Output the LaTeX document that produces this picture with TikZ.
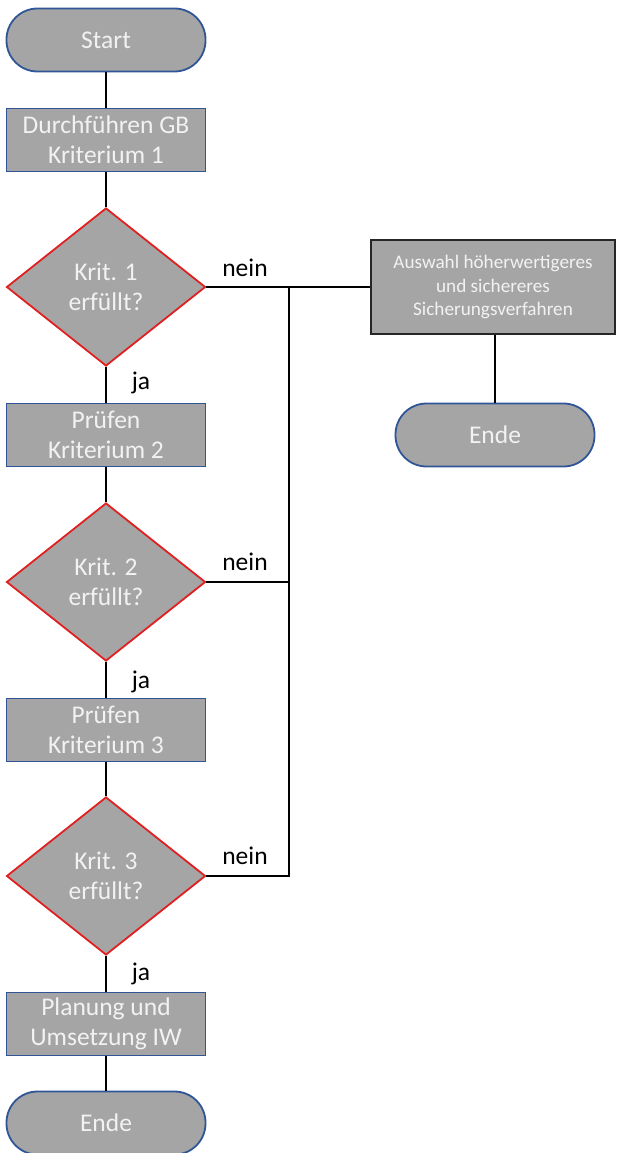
\documentclass[tikz,border=0pt]{standalone}
\usepackage{fontspec}
\setmainfont{Carlito}
\usetikzlibrary{shapes.geometric}
\definecolor{boxgray}{HTML}{A5A5A5}
\definecolor{boxblue}{HTML}{2F5597}
\definecolor{diared}{HTML}{E02020}
\definecolor{txtwhite}{HTML}{F2F2F2}
\tikzset{
  base/.style={fill=boxgray, text=txtwhite, align=center, font=\fontsize{25.5}{30}\selectfont, inner sep=0pt, line width=1.8pt},
  pill/.style={base, draw=boxblue, rounded corners=31pt, minimum width=199pt, minimum height=63pt},
  procbox/.style={base, draw=boxblue, rectangle, minimum width=199pt, minimum height=63pt},
  decision/.style={base, draw=diared, diamond, minimum width=199pt, minimum height=158pt, aspect=1.26},
  darkbox/.style={base, draw=black!85, line width=2.2pt, rectangle, minimum width=244pt, minimum height=94pt, font=\fontsize{19.2}{23.5}\selectfont},
  conn/.style={draw=black, line width=1.8pt},
  lbl/.style={font=\fontsize{25.5}{28}\selectfont, text=black, inner sep=0pt}
}
\begin{document}
\begin{tikzpicture}[x=1pt, y=-1pt]
\useasboundingbox (0,0) rectangle (616,1153);
\node[pill] (start) at (106,40) {Start};
\node[procbox] (b1) at (106,140) {Durchführen GB\\Kriterium 1};
\node[decision] (d1) at (106,287) {Krit. 1\\erfüllt?};
\node[procbox] (b2) at (106,435) {Prüfen\\Kriterium 2};
\node[decision] (d2) at (106,582) {Krit. 2\\erfüllt?};
\node[procbox] (b3) at (106,730) {Prüfen\\Kriterium 3};
\node[decision] (d3) at (106,876) {Krit. 3\\erfüllt?};
\node[procbox] (b4) at (106,1024) {Planung und\\Umsetzung IW};
\node[pill] (ende1) at (106,1123) {Ende};
\node[darkbox] (alt) at (493,287) {Auswahl höherwertigeres\\und sichereres\\Sicherungsverfahren};
\node[pill] (ende2) at (495,435) {Ende};
\coordinate (j1) at (289,287);
\coordinate (j2) at (289,582);
\coordinate (j3) at (289,876);
\draw[conn] (start) -- (b1);
\draw[conn] (b1) -- (d1);
\draw[conn] (d1) -- (b2);
\draw[conn] (b2) -- (d2);
\draw[conn] (d2) -- (b3);
\draw[conn] (b3) -- (d3);
\draw[conn] (d3) -- (b4);
\draw[conn] (b4) -- (ende1);
\draw[conn] (d1.east) -- (alt.west);
\draw[conn] (d2.east) -- (j2);
\draw[conn] (d3.east) -- (j3) -- (j1);
\draw[conn] (alt.south -| ende2.north) -- (ende2.north);
\node[lbl] (n1) at (245,268) {nein};
\node[lbl] (n2) at (245,562) {nein};
\node[lbl] (n3) at (245,856) {nein};
\node[lbl] (ja1) at (141,383) {ja};
\node[lbl] (ja2) at (141,682) {ja};
\node[lbl] (ja3) at (141,974) {ja};
\end{tikzpicture}
\end{document}
